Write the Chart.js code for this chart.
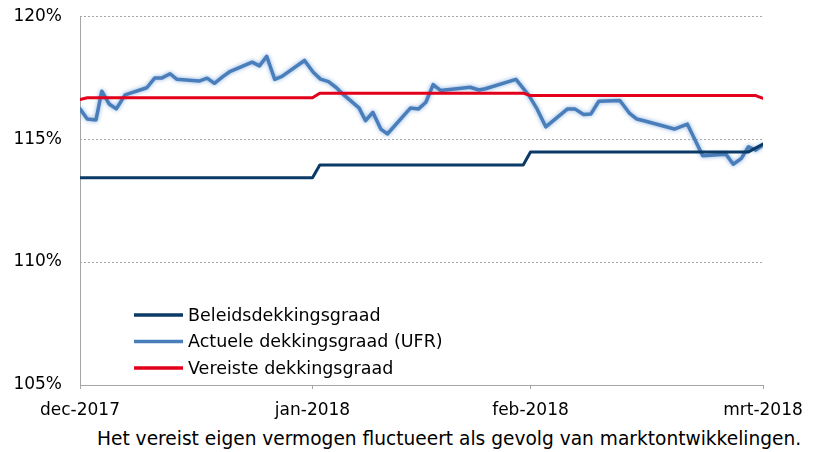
<!DOCTYPE html>
<html>
<head>
<meta charset="utf-8">
<script src="https://cdn.jsdelivr.net/npm/chart.js@4.4.0/dist/chart.umd.min.js"></script>
<style>
body { margin: 0; background: #fff; width: 819px; height: 452px; overflow: hidden; position: relative; font-family: "DejaVu Sans", Verdana, sans-serif; }
#chart1 { position: absolute; left: 0; top: -12px; }
#caption { position: absolute; left: 97px; top: 428px; font-size: 18.6px; color: #000; white-space: nowrap; }
</style>
</head>
<body>
<canvas id="chart1" width="819" height="439"></canvas>
<div id="caption">Het vereist eigen vermogen fluctueert als gevolg van marktontwikkelingen.</div>
<script>
// x = trading-day index from 1 dec 2017
var tickPos = [0, 32, 62, 94];
var tickLabels = ['dec-2017', 'jan-2018', 'feb-2018', 'mrt-2018'];

var beleidsX = [0, 32, 33, 61, 62, 92, 94];
var beleidsY = [113.43, 113.43, 113.95, 113.95, 114.48, 114.48, 114.8];

var actueleX = [0, 1, 2.2, 3, 4, 5, 6.2, 9.2, 10.3, 11.3, 12.4, 13.3, 16.4, 17.5, 18.5, 19.7, 20.7,
  23.7, 24.7, 25.7, 26.8, 27.8, 30.9, 32.1, 33.1, 34.2, 35.3, 36.3, 38.4, 39.3, 40.3, 41.4, 42.3,
  45.5, 46.6, 47.6, 48.6, 49.6, 53.7, 54.9, 55.8, 60, 61.8, 62.9, 64.1, 67.1, 68.1, 69.3, 70.3, 71.4,
  74.3, 75.6, 76.6, 77.6, 81.8, 83.6, 85.7, 88.9, 89.9, 91, 92, 93, 94];
var actueleY = [116.23, 115.82, 115.78, 116.95, 116.43, 116.23, 116.8, 117.09, 117.49, 117.49, 117.66, 117.44,
  117.36, 117.48, 117.27, 117.55, 117.76, 118.13, 117.98, 118.37, 117.43, 117.55, 118.2, 117.72, 117.44,
  117.34, 117.09, 116.8, 116.27, 115.75, 116.09, 115.41, 115.21, 116.27, 116.23, 116.5, 117.22, 116.98,
  117.11, 117.0, 117.05, 117.43, 116.77, 116.23, 115.5, 116.23, 116.23, 116.0, 116.02, 116.54, 116.57,
  116.06, 115.82, 115.75, 115.41, 115.61, 114.32, 114.39, 113.98, 114.21, 114.69, 114.55, 114.76];

var vereisteX = [0, 1, 32, 33, 61, 62, 93, 94];
var vereisteY = [116.61, 116.68, 116.68, 116.87, 116.87, 116.77, 116.77, 116.66];

function pts(xs, ys) {
  return xs.map(function (x, i) { return { x: x, y: ys[i] }; });
}

var FONT = '"DejaVu Sans", Verdana, sans-serif';
var AXIS = '#a6a6a6';

// soft halo round the actual funding ratio line
var glow = {
  id: 'glow',
  beforeDatasetDraw: function (chart, args) {
    if (args.index === 1) {
      chart.ctx.save();
      chart.ctx.shadowColor = 'rgba(120,165,220,0.9)';
      chart.ctx.shadowBlur = 4;
    }
  },
  afterDatasetDraw: function (chart, args) {
    if (args.index === 1) chart.ctx.restore();
  }
};

// solid left axis line (grid dash would otherwise apply to it)
var leftAxis = {
  id: 'leftAxis',
  beforeDatasetsDraw: function (chart) {
    var a = chart.chartArea, c = chart.ctx;
    c.save();
    c.strokeStyle = AXIS;
    c.lineWidth = 1;
    c.beginPath();
    c.moveTo(a.left + 0.5, a.top);
    c.lineTo(a.left + 0.5, a.bottom + 4);
    c.stroke();
    c.restore();
  }
};

// legend inside the plot, lower left
var innerLegend = {
  id: 'innerLegend',
  afterDatasetsDraw: function (chart) {
    var c = chart.ctx;
    c.save();
    c.font = '17.5px ' + FONT;
    c.textBaseline = 'middle';
    chart.data.datasets.forEach(function (ds, i) {
      var y = 327 + i * 26.5;
      c.strokeStyle = ds.borderColor;
      c.lineWidth = 3.5;
      c.beginPath();
      c.moveTo(134, y);
      c.lineTo(183, y);
      c.stroke();
      c.fillStyle = '#000';
      c.fillText(ds.label, 188, y + 1);
    });
    c.restore();
  }
};

new Chart(document.getElementById('chart1').getContext('2d'), {
  type: 'line',
  data: {
    datasets: [{
      label: 'Beleidsdekkingsgraad',
      data: pts(beleidsX, beleidsY),
      borderColor: '#0b3a66',
      borderWidth: 3,
      order: 0
    }, {
      label: 'Actuele dekkingsgraad (UFR)',
      data: pts(actueleX, actueleY),
      borderColor: '#4a7ebb',
      borderWidth: 3.5,
      order: 2
    }, {
      label: 'Vereiste dekkingsgraad',
      data: pts(vereisteX, vereisteY),
      borderColor: '#e2001a',
      borderWidth: 3,
      order: 1
    }]
  },
  options: {
    responsive: false,
    animation: false,
    elements: {
      point: { radius: 0 },
      line: { tension: 0, borderJoinStyle: 'round', borderCapStyle: 'round' }
    },
    layout: { padding: { top: 4, right: 56, left: 0, bottom: 0 } },
    plugins: { legend: { display: false }, tooltip: { enabled: false } },
    scales: {
      x: {
        type: 'linear',
        min: 0,
        max: 94,
        afterBuildTicks: function (axis) {
          axis.ticks = tickPos.map(function (v) { return { value: v }; });
        },
        afterFit: function (s) { s.height = 42; },
        ticks: {
          autoSkip: false,
          maxRotation: 0,
          padding: 11,
          color: '#000',
          font: { family: FONT, size: 17 },
          callback: function (v) { return tickLabels[tickPos.indexOf(v)]; }
        },
        grid: { drawOnChartArea: false, drawTicks: true, tickLength: 4, tickColor: AXIS, color: AXIS },
        border: { display: true, color: AXIS, dash: [2, 2] }
      },
      y: {
        min: 105,
        max: 120,
        afterFit: function (s) { s.width = 80; },
        ticks: {
          stepSize: 5,
          padding: 18,
          color: '#000',
          font: { family: FONT, size: 17 },
          callback: function (v) { return v + '%'; }
        },
        grid: { drawTicks: false, color: AXIS, lineWidth: 1 },
        border: { display: false, dash: [2, 2] }
      }
    }
  },
  plugins: [glow, leftAxis, innerLegend]
});
</script>
</body>
</html>
